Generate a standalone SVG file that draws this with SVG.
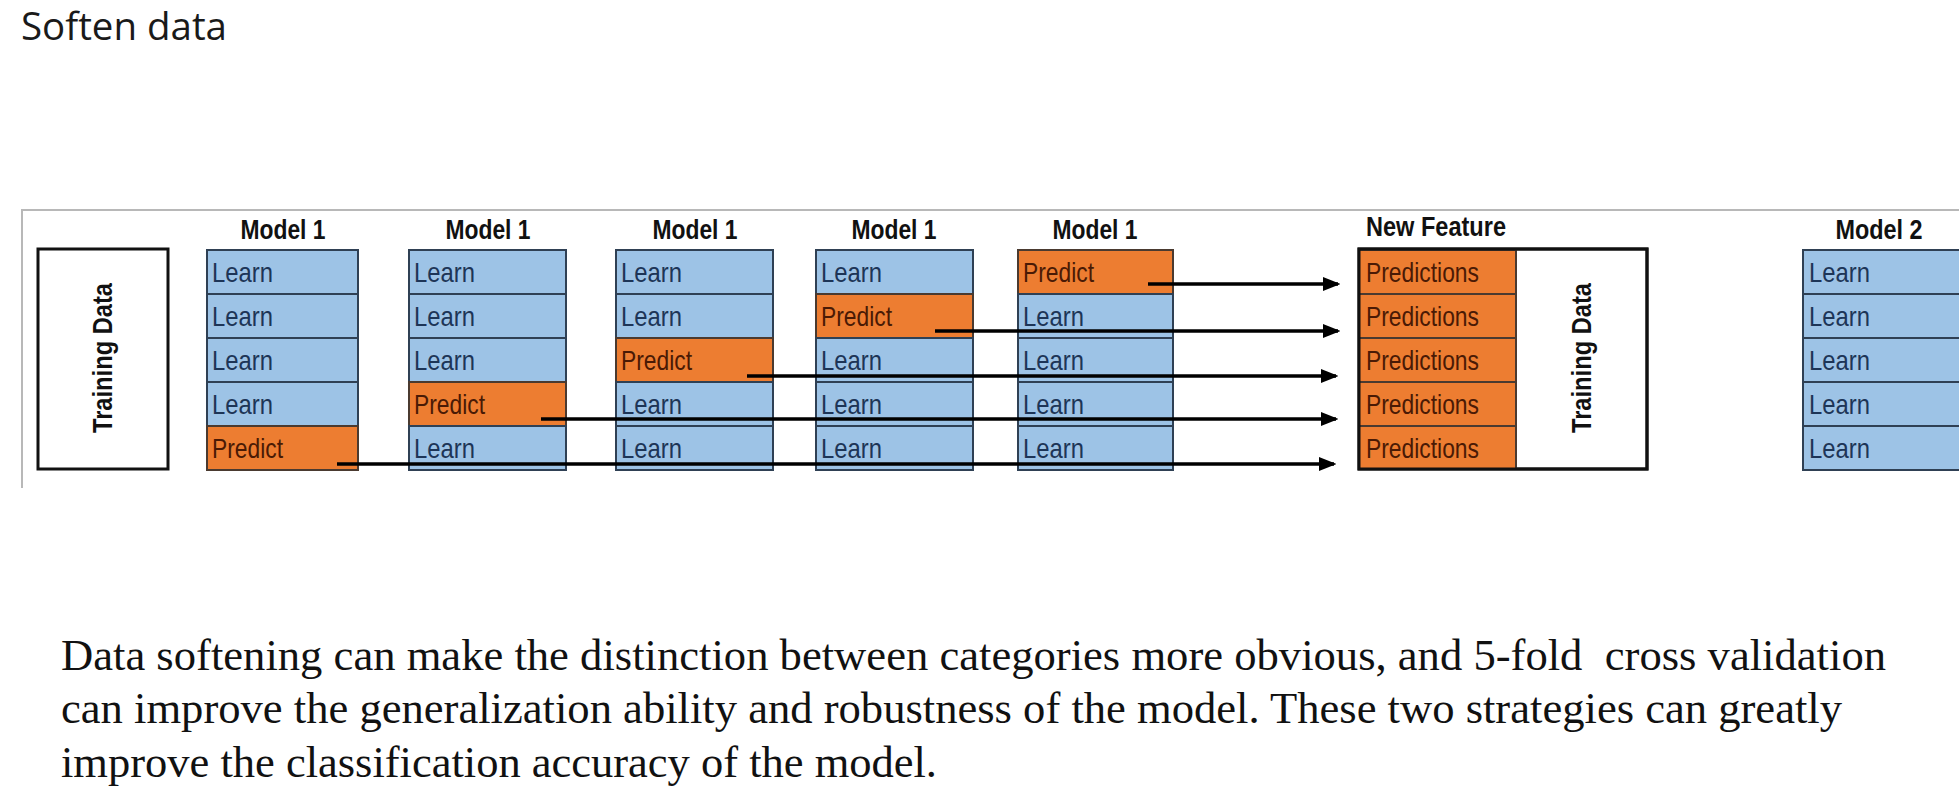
<svg xmlns="http://www.w3.org/2000/svg" width="1959" height="793" viewBox="0 0 1959 793">
<style>
.title{font-family:"Open Sans","Liberation Sans",sans-serif;font-size:38px;fill:#1a1a1a}
.body{font-family:"Liberation Serif","Times New Roman",serif;font-size:44px;fill:#111}
.hdr{font-family:"Liberation Sans",Arial,sans-serif;font-weight:bold;font-size:28px;fill:#111;text-anchor:middle}
.vt{font-family:"Liberation Sans",Arial,sans-serif;font-weight:bold;font-size:28px;fill:#111;text-anchor:middle}
.learn{fill:#9dc3e6;stroke:#2f4054;stroke-width:2}
.pred{fill:#ed7d31;stroke:#4a3a30;stroke-width:2}
.tl{font-family:"Liberation Sans",Arial,sans-serif;font-size:28px;fill:#1d3557}
.tp{font-family:"Liberation Sans",Arial,sans-serif;font-size:28px;fill:#4a1a05}
.box{fill:#fff;stroke:#111;stroke-width:3}
.conn{stroke:#000;stroke-width:3.5;fill:none;marker-end:url(#ah)}
</style>
<defs>
<marker id="ah" viewBox="0 0 5 4" refX="4.3" refY="2" markerWidth="5" markerHeight="4" orient="auto" markerUnits="strokeWidth">
<path d="M0,0 L5,2 L0,4 z" fill="#000"/>
</marker>
</defs>
<rect width="1959" height="793" fill="#fff"/>
<text class="title" x="21" y="40" textLength="206" lengthAdjust="spacingAndGlyphs">Soften data</text>
<g id="panel">
<path d="M22,488 V210 H1959" fill="none" stroke="#b8b8b8" stroke-width="2"/>
</g>
<g id="training-data-left">
<rect class="box" x="38" y="249" width="130" height="220"/>
<text class="vt" transform="translate(112,358) rotate(-90)" textLength="150" lengthAdjust="spacingAndGlyphs">Training Data</text>
</g>
<g id="fold1">
<text class="hdr" x="283" y="239" textLength="85" lengthAdjust="spacingAndGlyphs">Model 1</text>
<rect class="learn" x="207" y="250" width="151" height="44"/>
<rect class="learn" x="207" y="294" width="151" height="44"/>
<rect class="learn" x="207" y="338" width="151" height="44"/>
<rect class="learn" x="207" y="382" width="151" height="44"/>
<rect class="pred" x="207" y="426" width="151" height="44"/>
<text class="tl" x="212" y="282" textLength="61" lengthAdjust="spacingAndGlyphs">Learn</text>
<text class="tl" x="212" y="326" textLength="61" lengthAdjust="spacingAndGlyphs">Learn</text>
<text class="tl" x="212" y="370" textLength="61" lengthAdjust="spacingAndGlyphs">Learn</text>
<text class="tl" x="212" y="414" textLength="61" lengthAdjust="spacingAndGlyphs">Learn</text>
<text class="tp" x="212" y="458" textLength="71" lengthAdjust="spacingAndGlyphs">Predict</text>
</g>
<g id="fold2">
<text class="hdr" x="488" y="239" textLength="85" lengthAdjust="spacingAndGlyphs">Model 1</text>
<rect class="learn" x="409" y="250" width="157" height="44"/>
<rect class="learn" x="409" y="294" width="157" height="44"/>
<rect class="learn" x="409" y="338" width="157" height="44"/>
<rect class="pred" x="409" y="382" width="157" height="44"/>
<rect class="learn" x="409" y="426" width="157" height="44"/>
<text class="tl" x="414" y="282" textLength="61" lengthAdjust="spacingAndGlyphs">Learn</text>
<text class="tl" x="414" y="326" textLength="61" lengthAdjust="spacingAndGlyphs">Learn</text>
<text class="tl" x="414" y="370" textLength="61" lengthAdjust="spacingAndGlyphs">Learn</text>
<text class="tp" x="414" y="414" textLength="71" lengthAdjust="spacingAndGlyphs">Predict</text>
<text class="tl" x="414" y="458" textLength="61" lengthAdjust="spacingAndGlyphs">Learn</text>
</g>
<g id="fold3">
<text class="hdr" x="695" y="239" textLength="85" lengthAdjust="spacingAndGlyphs">Model 1</text>
<rect class="learn" x="616" y="250" width="157" height="44"/>
<rect class="learn" x="616" y="294" width="157" height="44"/>
<rect class="pred" x="616" y="338" width="157" height="44"/>
<rect class="learn" x="616" y="382" width="157" height="44"/>
<rect class="learn" x="616" y="426" width="157" height="44"/>
<text class="tl" x="621" y="282" textLength="61" lengthAdjust="spacingAndGlyphs">Learn</text>
<text class="tl" x="621" y="326" textLength="61" lengthAdjust="spacingAndGlyphs">Learn</text>
<text class="tp" x="621" y="370" textLength="71" lengthAdjust="spacingAndGlyphs">Predict</text>
<text class="tl" x="621" y="414" textLength="61" lengthAdjust="spacingAndGlyphs">Learn</text>
<text class="tl" x="621" y="458" textLength="61" lengthAdjust="spacingAndGlyphs">Learn</text>
</g>
<g id="fold4">
<text class="hdr" x="894" y="239" textLength="85" lengthAdjust="spacingAndGlyphs">Model 1</text>
<rect class="learn" x="816" y="250" width="157" height="44"/>
<rect class="pred" x="816" y="294" width="157" height="44"/>
<rect class="learn" x="816" y="338" width="157" height="44"/>
<rect class="learn" x="816" y="382" width="157" height="44"/>
<rect class="learn" x="816" y="426" width="157" height="44"/>
<text class="tl" x="821" y="282" textLength="61" lengthAdjust="spacingAndGlyphs">Learn</text>
<text class="tp" x="821" y="326" textLength="71" lengthAdjust="spacingAndGlyphs">Predict</text>
<text class="tl" x="821" y="370" textLength="61" lengthAdjust="spacingAndGlyphs">Learn</text>
<text class="tl" x="821" y="414" textLength="61" lengthAdjust="spacingAndGlyphs">Learn</text>
<text class="tl" x="821" y="458" textLength="61" lengthAdjust="spacingAndGlyphs">Learn</text>
</g>
<g id="fold5">
<text class="hdr" x="1095" y="239" textLength="85" lengthAdjust="spacingAndGlyphs">Model 1</text>
<rect class="pred" x="1018" y="250" width="155" height="44"/>
<rect class="learn" x="1018" y="294" width="155" height="44"/>
<rect class="learn" x="1018" y="338" width="155" height="44"/>
<rect class="learn" x="1018" y="382" width="155" height="44"/>
<rect class="learn" x="1018" y="426" width="155" height="44"/>
<text class="tp" x="1023" y="282" textLength="71" lengthAdjust="spacingAndGlyphs">Predict</text>
<text class="tl" x="1023" y="326" textLength="61" lengthAdjust="spacingAndGlyphs">Learn</text>
<text class="tl" x="1023" y="370" textLength="61" lengthAdjust="spacingAndGlyphs">Learn</text>
<text class="tl" x="1023" y="414" textLength="61" lengthAdjust="spacingAndGlyphs">Learn</text>
<text class="tl" x="1023" y="458" textLength="61" lengthAdjust="spacingAndGlyphs">Learn</text>
</g>
<g id="new-feature">
<text class="hdr" x="1436" y="236" textLength="140" lengthAdjust="spacingAndGlyphs">New Feature</text>
<rect class="box" x="1359" y="249" width="288" height="220"/>
<rect class="pred" x="1359" y="250" width="157" height="44"/>
<rect class="pred" x="1359" y="294" width="157" height="44"/>
<rect class="pred" x="1359" y="338" width="157" height="44"/>
<rect class="pred" x="1359" y="382" width="157" height="44"/>
<rect class="pred" x="1359" y="426" width="157" height="43"/>
<rect x="1359" y="249" width="288" height="220" fill="none" stroke="#111" stroke-width="3"/>
<text class="tp" x="1366" y="282" textLength="113" lengthAdjust="spacingAndGlyphs">Predictions</text>
<text class="tp" x="1366" y="326" textLength="113" lengthAdjust="spacingAndGlyphs">Predictions</text>
<text class="tp" x="1366" y="370" textLength="113" lengthAdjust="spacingAndGlyphs">Predictions</text>
<text class="tp" x="1366" y="414" textLength="113" lengthAdjust="spacingAndGlyphs">Predictions</text>
<text class="tp" x="1366" y="458" textLength="113" lengthAdjust="spacingAndGlyphs">Predictions</text>
<text class="vt" transform="translate(1591,358) rotate(-90)" textLength="150" lengthAdjust="spacingAndGlyphs">Training Data</text>
</g>
<g id="model2">
<text class="hdr" x="1879" y="239" textLength="87" lengthAdjust="spacingAndGlyphs">Model 2</text>
<rect class="learn" x="1803" y="250" width="165" height="44"/>
<rect class="learn" x="1803" y="294" width="165" height="44"/>
<rect class="learn" x="1803" y="338" width="165" height="44"/>
<rect class="learn" x="1803" y="382" width="165" height="44"/>
<rect class="learn" x="1803" y="426" width="165" height="44"/>
<text class="tl" x="1809" y="282" textLength="61" lengthAdjust="spacingAndGlyphs">Learn</text>
<text class="tl" x="1809" y="326" textLength="61" lengthAdjust="spacingAndGlyphs">Learn</text>
<text class="tl" x="1809" y="370" textLength="61" lengthAdjust="spacingAndGlyphs">Learn</text>
<text class="tl" x="1809" y="414" textLength="61" lengthAdjust="spacingAndGlyphs">Learn</text>
<text class="tl" x="1809" y="458" textLength="61" lengthAdjust="spacingAndGlyphs">Learn</text>
</g>
<g id="connectors">
<line class="conn" x1="1148" y1="284" x2="1338" y2="284"/>
<line class="conn" x1="935" y1="331" x2="1338" y2="331"/>
<line class="conn" x1="747" y1="376" x2="1336" y2="376"/>
<line class="conn" x1="541" y1="419" x2="1336" y2="419"/>
<line class="conn" x1="337" y1="464" x2="1334" y2="464"/>
</g>
<g id="caption">
<text class="body" x="61" y="670" textLength="1825" lengthAdjust="spacingAndGlyphs" xml:space="preserve">Data softening can make the distinction between categories more obvious, and 5-fold  cross validation</text>
<text class="body" x="61" y="723" textLength="1781" lengthAdjust="spacingAndGlyphs">can improve the generalization ability and robustness of the model. These two strategies can greatly</text>
<text class="body" x="61" y="777" textLength="876" lengthAdjust="spacingAndGlyphs">improve the classification accuracy of the model.</text>
</g>
</svg>
